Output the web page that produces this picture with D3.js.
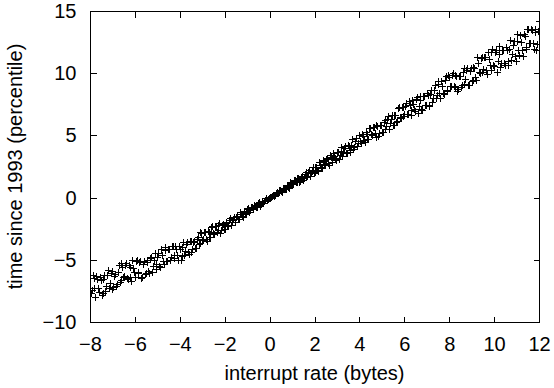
<!DOCTYPE html>
<html>
<head>
<meta charset="utf-8">
<script src="https://cdn.jsdelivr.net/npm/d3@7"></script>
<style>
  html, body { margin: 0; padding: 0; background: #fff; }
  svg { display: block; }
  text { font-family: "Liberation Sans", Arial, Helvetica, sans-serif; fill: #000; }
</style>
</head>
<body>
<svg id="chart" width="554" height="388"></svg>
<script>
// ---- data ----
const xValuesA = [
-8.00,-7.92,-7.84,-7.76,-7.68,-7.60,-7.52,-7.44,-7.36,-7.28,-7.20,-7.12,-7.04,-6.96,-6.88,-6.80,-6.72,-6.64,-6.56,-6.48,-6.40,-6.32,-6.24,-6.16,-6.08,-6.00,
-5.92,-5.84,-5.76,-5.68,-5.60,-5.52,-5.44,-5.36,-5.28,-5.20,-5.12,-5.04,-4.96,-4.88,-4.80,-4.72,-4.64,-4.56,-4.48,-4.40,-4.32,-4.24,-4.16,-4.08,-4.00,
-3.92,-3.84,-3.76,-3.68,-3.60,-3.52,-3.44,-3.36,-3.28,-3.20,-3.12,-3.04,-2.96,-2.88,-2.80,-2.72,-2.64,-2.56,-2.48,-2.40,-2.32,-2.24,-2.16,-2.08,-2.00,
-1.92,-1.84,-1.76,-1.68,-1.60,-1.52,-1.44,-1.36,-1.28,-1.20,-1.12,-1.04,-0.96,-0.88,-0.80,-0.72,-0.64,-0.56,-0.48,-0.40,-0.32,-0.24,-0.16,-0.08,0.00,
0.08,0.16,0.24,0.32,0.40,0.48,0.56,0.64,0.72,0.80,0.88,0.96,1.04,1.12,1.20,1.28,1.36,1.44,1.52,1.60,1.68,1.76,1.84,1.92,2.00,
2.08,2.16,2.24,2.32,2.40,2.48,2.56,2.64,2.72,2.80,2.88,2.96,3.04,3.12,3.20,3.28,3.36,3.44,3.52,3.60,3.68,3.76,3.84,3.92,4.00,
4.08,4.16,4.24,4.32,4.40,4.48,4.56,4.64,4.72,4.80,4.88,4.96,5.04,5.12,5.20,5.28,5.36,5.44,5.52,5.60,5.68,5.76,5.84,5.92,6.00,
6.08,6.16,6.24,6.32,6.40,6.48,6.56,6.64,6.72,6.80,6.88,6.96,7.04,7.12,7.20,7.28,7.36,7.44,7.52,7.60,7.68,7.76,7.84,7.92,8.00,
8.08,8.16,8.24,8.32,8.40,8.48,8.56,8.64,8.72,8.80,8.88,8.96,9.04,9.12,9.20,9.28,9.36,9.44,9.52,9.60,9.68,9.76,9.84,9.92,10.00,
10.08,10.16,10.24,10.32,10.40,10.48,10.56,10.64,10.72,10.80,10.88,10.96,11.04,11.12,11.20,11.28,11.36,11.44,11.52,11.60,11.68,11.76,11.84,11.92,12.00
];
const yValuesA = [
-6.44,-7.44,-6.50,-7.96,-6.56,-7.59,-6.65,-7.64,-6.25,-7.07,-5.85,-6.83,-5.91,-7.21,-6.13,-6.93,-5.40,-6.66,-5.54,-6.34,-5.27,-6.51,-5.61,-6.68,-5.62,-6.40,
-5.03,-5.96,-5.07,-6.41,-5.12,-6.05,-5.19,-6.07,-4.81,-5.53,-4.44,-5.30,-4.48,-5.60,-4.65,-5.33,-4.01,-5.07,-4.11,-4.77,-3.87,-4.88,-4.12,-4.98,-4.11,
-4.70,-3.57,-4.26,-3.54,-4.53,-3.51,-4.17,-3.49,-4.09,-3.14,-3.61,-2.81,-3.36,-2.76,-3.46,-2.80,-3.18,-2.31,-2.92,-2.29,-2.64,-2.07,-2.59,-2.12,-2.53,
-2.01,-2.27,-1.65,-1.96,-1.55,-1.99,-1.45,-1.71,-1.35,-1.56,-1.09,-1.24,-0.86,-1.03,-0.74,-0.95,-0.65,-0.73,-0.37,-0.51,-0.25,-0.29,-0.07,-0.14,0.04,
0.01,0.21,0.19,0.46,0.41,0.63,0.47,0.80,0.68,0.94,0.81,1.19,1.08,1.45,1.29,1.61,1.32,1.70,1.54,2.08,1.76,2.20,2.00,2.45,2.07,
2.48,2.14,2.63,2.38,3.02,2.70,3.15,2.62,3.27,2.90,3.38,3.01,3.70,3.39,4.03,3.64,4.15,3.58,4.18,3.84,4.69,4.10,4.76,4.40,5.05,
4.42,4.99,4.43,5.11,4.70,5.59,5.07,5.69,4.87,5.78,5.20,5.84,5.27,6.21,5.74,6.59,6.00,6.68,5.84,6.64,6.13,7.26,6.42,7.28,6.75,
7.59,6.71,7.44,6.66,7.53,6.95,8.09,7.38,8.15,7.05,8.20,7.42,8.21,7.45,8.63,8.00,9.06,8.27,9.11,8.01,9.00,8.32,9.74,8.64,9.70,
8.99,10.02,8.87,9.76,8.75,9.80,9.05,10.44,9.52,10.45,9.06,10.45,9.45,10.40,9.43,10.86,10.04,11.32,10.32,11.31,9.95,11.13,10.27,11.96,10.60,
11.86,10.99,12.21,10.83,11.87,10.66,11.90,11.01,12.63,11.54,12.61,10.99,12.59,11.43,12.52,11.40,13.03,12.09,13.54,12.40,13.51,11.97,13.28,12.32,14.20
];
const xValuesB = [
-7.96,-7.88,-7.80,-7.72,-7.64,-7.56,-7.48,-7.40,-7.32,-7.24,-7.16,-7.08,-7.00,-6.92,-6.84,-6.76,-6.68,-6.60,-6.52,-6.44,-6.36,-6.28,-6.20,-6.12,-6.04,
-5.96,-5.88,-5.80,-5.72,-5.64,-5.56,-5.48,-5.40,-5.32,-5.24,-5.16,-5.08,-5.00,-4.92,-4.84,-4.76,-4.68,-4.60,-4.52,-4.44,-4.36,-4.28,-4.20,-4.12,-4.04,
-3.96,-3.88,-3.80,-3.72,-3.64,-3.56,-3.48,-3.40,-3.32,-3.24,-3.16,-3.08,-3.00,-2.92,-2.84,-2.76,-2.68,-2.60,-2.52,-2.44,-2.36,-2.28,-2.20,-2.12,-2.04,
-1.96,-1.88,-1.80,-1.72,-1.64,-1.56,-1.48,-1.40,-1.32,-1.24,-1.16,-1.08,-1.00,-0.92,-0.84,-0.76,-0.68,-0.60,-0.52,-0.44,-0.36,-0.28,-0.20,-0.12,-0.04,
0.04,0.12,0.20,0.28,0.36,0.44,0.52,0.60,0.68,0.76,0.84,0.92,1.00,1.08,1.16,1.24,1.32,1.40,1.48,1.56,1.64,1.72,1.80,1.88,1.96,
2.04,2.12,2.20,2.28,2.36,2.44,2.52,2.60,2.68,2.76,2.84,2.92,3.00,3.08,3.16,3.24,3.32,3.40,3.48,3.56,3.64,3.72,3.80,3.88,3.96,
4.04,4.12,4.20,4.28,4.36,4.44,4.52,4.60,4.68,4.76,4.84,4.92,5.00,5.08,5.16,5.24,5.32,5.40,5.48,5.56,5.64,5.72,5.80,5.88,5.96,
6.04,6.12,6.20,6.28,6.36,6.44,6.52,6.60,6.68,6.76,6.84,6.92,7.00,7.08,7.16,7.24,7.32,7.40,7.48,7.56,7.64,7.72,7.80,7.88,7.96,
8.04,8.12,8.20,8.28,8.36,8.44,8.52,8.60,8.68,8.76,8.84,8.92,9.00,9.08,9.16,9.24,9.32,9.40,9.48,9.56,9.64,9.72,9.80,9.88,9.96,
10.04,10.12,10.20,10.28,10.36,10.44,10.52,10.60,10.68,10.76,10.84,10.92,11.00,11.08,11.16,11.24,11.32,11.40,11.48,11.56,11.64,11.72,11.80,11.88,11.96
];
const yValuesB = [
-7.64,-6.23,-7.23,-6.29,-7.28,-6.35,-7.80,-6.53,-7.47,-6.25,-7.23,-6.10,-7.37,-6.28,-7.09,-6.00,-6.81,-5.28,-6.41,-5.38,-6.46,-5.39,-6.38,-5.04,-5.99,
-5.09,-6.03,-5.14,-6.49,-5.30,-6.16,-5.03,-5.92,-4.88,-6.01,-5.02,-5.73,-4.76,-5.46,-4.11,-5.08,-4.18,-5.10,-4.17,-5.01,-3.86,-4.64,-3.89,-4.65,-3.91,
-5.00,-3.98,-4.65,-3.70,-4.37,-3.52,-4.36,-3.56,-4.05,-3.29,-3.76,-2.75,-3.40,-2.73,-3.32,-2.65,-3.16,-2.37,-2.83,-2.31,-2.74,-2.24,-2.85,-2.22,-2.56,
-1.98,-2.32,-1.80,-2.22,-1.74,-1.96,-1.52,-1.72,-1.16,-1.44,-1.06,-1.30,-0.94,-1.12,-0.72,-0.87,-0.60,-0.72,-0.47,-0.64,-0.36,-0.41,-0.17,-0.20,0.00,
-0.04,0.15,0.14,0.36,0.33,0.64,0.54,0.81,0.69,0.98,0.85,1.23,1.09,1.38,1.22,1.54,1.23,1.65,1.45,1.88,1.65,2.08,1.73,2.17,1.95,
2.42,2.19,2.85,2.48,2.97,2.60,3.12,2.77,3.42,3.07,3.55,3.18,3.67,3.08,3.73,3.35,4.00,3.59,4.22,3.65,4.26,3.91,4.54,4.17,5.07,
4.51,5.15,4.60,5.28,4.75,5.61,5.10,5.71,5.18,5.80,4.98,5.81,5.28,6.11,5.53,6.33,5.54,6.32,5.83,6.62,6.11,7.24,6.49,7.29,6.56,
7.40,6.70,7.77,7.08,7.83,7.13,7.89,6.82,7.84,7.15,8.16,7.41,8.37,7.37,8.31,7.68,8.63,7.98,9.35,8.40,9.36,8.43,9.43,8.56,9.84,
8.99,9.86,8.99,9.87,8.56,9.76,8.90,10.08,9.16,10.29,9.07,10.16,9.37,10.49,9.69,11.28,10.13,11.24,10.11,11.27,10.22,11.70,10.68,11.69,10.65,
11.68,10.13,11.53,10.51,11.88,10.81,12.09,10.69,11.93,11.03,12.29,11.38,13.17,11.87,13.10,11.84,13.13,11.95,13.59,12.45,13.57,12.42,13.54,11.83,13.36
];
const xDomain = [-8, 12];
const yDomain = [-10, 15];
const xTickValues = [-8, -6, -4, -2, 0, 2, 4, 6, 8, 10, 12];
const yTickValues = [-10, -5, 0, 5, 10, 15];
const xLabel = "interrupt rate (bytes)";
const yLabel = "time since 1993 (percentile)";

// ---- layout ----
const W = 554, H = 388;
const margin = { left: 90, right: 15, top: 11, bottom: 66 };
const plotW = W - margin.left - margin.right;
const plotH = H - margin.top - margin.bottom;
const tickLen = 6;
const fontSize = 20;

const svg = d3.select("#chart");
const g = svg.append("g").attr("transform", `translate(${margin.left + 0.5},${margin.top + 0.5})`);

const x = d3.scaleLinear().domain(xDomain).range([0, plotW]);
const y = d3.scaleLinear().domain(yDomain).range([plotH, 0]);

svg.append("defs").append("clipPath").attr("id", "clip")
  .append("rect").attr("x", -0.5).attr("y", -0.5).attr("width", plotW + 1).attr("height", plotH + 1);

const axBottom = d3.axisBottom(x).tickValues(xTickValues).tickSize(-tickLen).tickPadding(14).tickFormat(d3.format("d")).offset(0);
const axTop = d3.axisTop(x).tickValues(xTickValues).tickSize(-tickLen).tickFormat("").offset(0);
const axLeft = d3.axisLeft(y).tickValues(yTickValues).tickSize(-tickLen).tickPadding(14).tickFormat(d3.format("d")).offset(0);
const axRight = d3.axisRight(y).tickValues(yTickValues).tickSize(-tickLen).tickFormat("").offset(0);

function styleAxis(sel) {
  sel.select(".domain").remove();
  sel.selectAll(".tick line").attr("stroke", "#000").attr("stroke-width", 1).attr("shape-rendering", "crispEdges");
  sel.selectAll("text").attr("font-size", fontSize).attr("font-family", '"Liberation Sans", Arial, sans-serif').attr("fill", "#000");
}
g.append("g").attr("transform", `translate(0,${plotH})`).call(axBottom).call(styleAxis);
g.append("g").call(axTop).call(styleAxis);
g.append("g").call(axLeft).call(styleAxis);
g.append("g").attr("transform", `translate(${plotW},0)`).call(axRight).call(styleAxis);

// points as "+" markers, snapped to the pixel grid
const pts = xValuesA.map((v, i) => [v, yValuesA[i]])
  .concat(xValuesB.map((v, i) => [v, yValuesB[i]]));
const r = 3;
g.append("g").attr("clip-path", "url(#clip)")
  .selectAll("path.pt").data(pts).join("path")
  .attr("class", "pt")
  .attr("d", d => {
    const px = Math.round(x(d[0])), py = Math.round(y(d[1]));
    return `M${px - r - 0.5},${py}H${px + r + 0.5}M${px},${py - r - 0.5}V${py + r + 0.5}`;
  })
  .attr("stroke", "#000").attr("stroke-width", 1).attr("fill", "none");

g.append("rect").attr("x", 0).attr("y", 0).attr("width", plotW).attr("height", plotH)
  .attr("fill", "none").attr("stroke", "#000").attr("stroke-width", 1);

svg.append("text")
  .attr("x", margin.left + plotW / 2).attr("y", 380)
  .attr("text-anchor", "middle").attr("font-size", fontSize)
  .text(xLabel);
svg.append("text")
  .attr("transform", `translate(22,${margin.top + plotH / 2}) rotate(-90)`)
  .attr("text-anchor", "middle").attr("font-size", fontSize)
  .text(yLabel);
</script>
</body>
</html>
